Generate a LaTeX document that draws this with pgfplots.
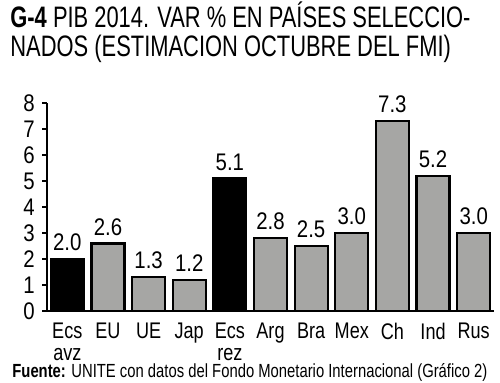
\documentclass[border=0pt]{standalone}
\usepackage{fontspec}
\setmainfont{Liberation Sans}[FakeStretch=0.74]
\newfontfamily\condx{Liberation Sans}[FakeStretch=0.8]
\newfontfamily\condy{Liberation Sans}[FakeStretch=0.85]
\newfontfamily\condsrc{Liberation Sans}[FakeStretch=0.78]
\usepackage{pgfplots}
\pgfplotsset{compat=1.18}
\definecolor{bargray}{RGB}{166,166,164}
\begin{document}
\begin{tikzpicture}
\useasboundingbox (0,0) rectangle (250pt,191pt);
\node[anchor=base west,inner sep=0pt,font=\fontsize{14.8}{16}\selectfont] at (5pt,177.5pt) {\textbf{G-4} PIB 2014. VAR \% EN PAÍSES SELECCIO-};
\node[anchor=base west,inner sep=0pt,font=\fontsize{14.8}{16}\selectfont] at (5pt,163pt) {NADOS (ESTIMACION OCTUBRE DEL FMI)};
\begin{axis}[
  at={(23.5pt,35.5pt)}, anchor=south west,
  scale only axis, width=223.5pt, height=104pt,
  xmin=-0.5, xmax=10.5, ymin=0, ymax=8,
  axis x line*=bottom, axis y line*=left,
  axis line style={line width=1pt},
  xtick={0,...,10},
  xticklabels={{Ecs\\avz},EU,UE,Jap,{Ecs\\rez},Arg,Bra,Mex,Ch,Ind,Rus},
  xticklabel style={align=center, font=\condx\fontsize{11.3}{10.6}\selectfont, inner sep=0pt, yshift=-3.5pt},
  major x tick style={draw=none},
  extra x ticks={-0.5,0.5,...,10.5},
  extra x tick labels={},
  extra x tick style={major tick length=3pt, tick style={line width=1pt, black}, xtick align=outside},
  ytick={0,...,8},
  yticklabel style={font=\condy\fontsize{12}{12}\selectfont, inner sep=0pt, xshift=-3.5pt},
  ytick align=outside, ytick style={line width=0.8pt, black}, major tick length=2.5pt,
  /pgf/number format/assume math mode=true,
  ybar, bar width=16.5pt, bar shift=0pt,
  nodes near coords={\pgfmathprintnumber[fixed,fixed zerofill,precision=1]{\pgfplotspointmeta}},
  nodes near coords style={font=\condy\fontsize{12}{12}\selectfont, inner sep=0pt, yshift=3.5pt},
  clip=false,
]
\addplot[fill=bargray, draw=black, line width=1.1pt] coordinates {(1,2.6) (2,1.3) (3,1.2) (5,2.8) (6,2.5) (7,3.0) (8,7.3) (9,5.2) (10,3.0)};
\addplot[fill=black, draw=black, line width=1.1pt] coordinates {(0,2.0) (4,5.1)};
\end{axis}
\node[anchor=base west,inner sep=0pt,font=\condsrc\fontsize{9.5}{11}\selectfont] at (6pt,2.5pt) {\textbf{Fuente:} UNITE con datos del Fondo Monetario Internacional (Gráfico 2)};
\end{tikzpicture}
\end{document}
